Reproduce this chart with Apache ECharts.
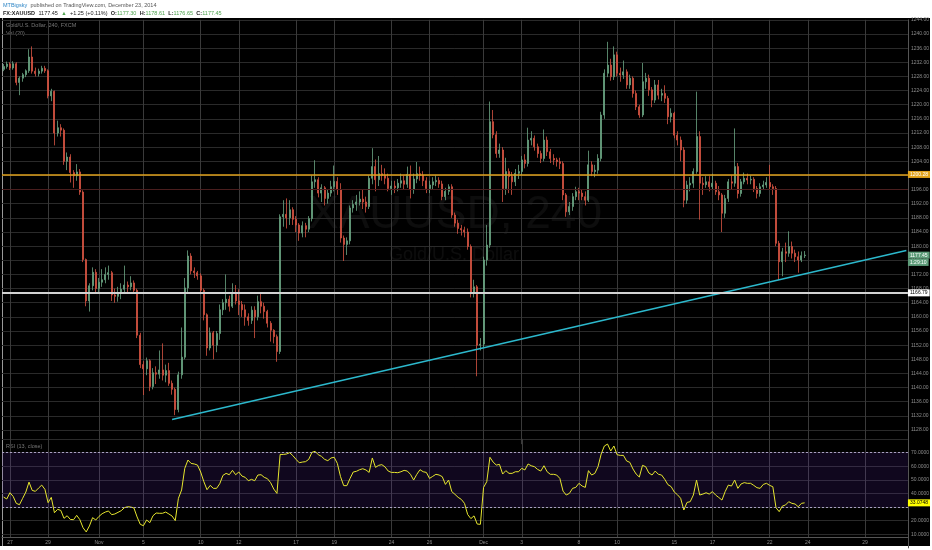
<!DOCTYPE html>
<html>
<head>
<meta charset="utf-8">
<title>XAUUSD 240</title>
<script src="https://cdn.jsdelivr.net/npm/echarts@6/dist/echarts.min.js"></script>
<style>
html,body{margin:0;padding:0;background:#fff;}
#frame{position:absolute;left:0;top:18px;width:930px;height:528px;background:#000;}
#edge{position:absolute;left:2px;top:18px;width:1px;height:528px;background:#9a9a9a;}
#chart{position:absolute;left:0;top:0;width:932px;height:550px;}
</style>
</head>
<body>
<div id="frame"></div>
<div id="edge"></div>
<div id="chart"></div>
<script>
// 4h bars, one row per bar: [open, high, low, close]
var bars = [
  [1230.0,1231.5,1229.5,1230.8],[1230.8,1232.2,1230.2,1231.5],[1231.5,1232.0,1229.8,1230.4],[1230.4,1232.3,1229.9,1231.6],[1231.6,1232.0,1225.5,1226.3],[1226.3,1228.0,1222.7,1227.5],
  [1227.5,1229.0,1226.5,1228.5],[1228.5,1230.0,1227.8,1229.6],[1229.6,1235.7,1229.0,1233.5],[1233.5,1236.5,1228.8,1229.5],[1229.5,1230.5,1228.0,1228.8],[1228.8,1230.2,1228.0,1229.5],
  [1229.5,1231.0,1228.8,1230.3],[1230.3,1231.0,1229.0,1229.6],[1229.6,1230.0,1221.8,1222.5],[1222.5,1224.5,1221.0,1223.8],[1223.8,1224.0,1208.5,1212.0],[1212.0,1215.5,1211.0,1213.5],
  [1213.5,1214.5,1211.0,1212.8],[1212.8,1213.3,1203.0,1204.0],[1204.0,1206.5,1201.5,1205.2],[1205.2,1206.0,1198.0,1200.8],[1200.8,1201.5,1196.5,1199.9],[1199.9,1203.2,1198.5,1201.0],
  [1201.0,1201.8,1194.5,1195.3],[1195.3,1195.8,1175.5,1176.2],[1176.2,1176.5,1163.0,1164.5],[1164.5,1169.5,1161.5,1168.8],[1168.8,1174.0,1167.5,1172.6],[1172.6,1173.5,1166.5,1168.0],
  [1168.0,1171.0,1166.5,1169.8],[1169.8,1173.5,1168.5,1170.5],[1170.5,1174.0,1169.5,1172.0],[1172.0,1174.5,1170.5,1172.5],[1172.5,1173.0,1164.5,1166.2],[1166.2,1168.0,1164.0,1165.8],
  [1165.8,1168.5,1164.3,1166.8],[1166.8,1169.5,1165.0,1167.8],[1167.8,1174.5,1166.5,1169.0],[1169.0,1170.0,1167.0,1168.5],[1168.5,1171.5,1167.5,1169.6],[1169.6,1170.3,1166.8,1167.5],
  [1167.5,1168.0,1154.0,1154.8],[1154.8,1155.5,1145.5,1146.5],[1146.5,1147.5,1137.9,1145.3],[1145.3,1148.5,1143.5,1147.6],[1147.6,1148.0,1139.0,1140.3],[1140.3,1145.5,1139.5,1144.2],
  [1144.2,1146.0,1141.0,1143.8],[1143.8,1150.5,1142.5,1145.0],[1145.0,1152.5,1142.0,1143.5],[1143.5,1146.5,1141.5,1144.8],[1144.8,1147.0,1140.5,1141.2],[1141.2,1142.0,1138.0,1139.5],
  [1139.5,1140.0,1132.2,1133.8],[1133.8,1144.5,1133.0,1143.6],[1143.6,1157.0,1142.5,1148.6],[1148.6,1171.0,1148.0,1168.2],[1168.2,1178.8,1167.0,1177.2],[1177.2,1178.0,1172.0,1173.0],
  [1173.0,1174.0,1171.0,1172.5],[1172.5,1173.0,1170.5,1171.6],[1171.6,1172.3,1166.5,1167.5],[1167.5,1168.0,1159.0,1160.6],[1160.6,1161.0,1149.0,1151.2],[1151.2,1157.0,1150.5,1155.5],
  [1155.5,1156.0,1148.0,1152.0],[1152.0,1156.0,1150.0,1155.3],[1155.3,1163.5,1153.5,1162.0],[1162.0,1165.0,1160.5,1164.0],[1164.0,1172.0,1162.0,1165.0],[1165.0,1166.0,1161.5,1163.0],
  [1163.0,1169.5,1162.5,1166.7],[1166.7,1169.0,1163.5,1164.5],[1164.5,1167.8,1160.5,1163.5],[1163.5,1164.5,1160.0,1162.0],[1162.0,1163.5,1157.5,1160.0],[1160.0,1161.0,1157.5,1159.0],
  [1159.0,1163.0,1158.0,1161.9],[1161.9,1163.0,1154.0,1160.0],[1160.0,1166.0,1159.0,1164.3],[1164.3,1166.5,1161.0,1163.0],[1163.0,1164.0,1159.5,1161.5],[1161.5,1162.0,1157.0,1158.2],
  [1158.2,1158.8,1153.0,1156.2],[1156.2,1156.5,1152.5,1154.4],[1154.4,1155.0,1147.3,1150.2],[1150.2,1189.0,1149.5,1188.3],[1188.3,1193.0,1185.5,1189.0],[1189.0,1193.5,1185.0,1188.0],
  [1188.0,1193.0,1186.0,1190.3],[1190.3,1191.0,1186.0,1187.6],[1187.6,1188.5,1184.0,1186.0],[1186.0,1186.5,1181.5,1183.7],[1183.7,1187.0,1182.5,1185.8],[1185.8,1186.6,1182.5,1184.8],
  [1184.8,1188.5,1184.0,1187.8],[1187.8,1200.0,1187.0,1198.2],[1198.2,1204.3,1196.5,1198.8],[1198.8,1199.5,1193.8,1195.0],[1195.0,1197.5,1192.5,1196.5],[1196.5,1197.0,1191.5,1193.5],
  [1193.5,1196.0,1192.0,1195.0],[1195.0,1198.5,1194.0,1196.8],[1196.8,1202.8,1195.5,1198.3],[1198.3,1199.5,1194.5,1196.0],[1196.0,1197.8,1181.0,1182.3],[1182.3,1183.0,1175.8,1180.5],
  [1180.5,1182.5,1177.5,1181.5],[1181.5,1191.5,1180.5,1190.8],[1190.8,1193.0,1189.5,1191.8],[1191.8,1194.5,1190.0,1192.5],[1192.5,1195.5,1191.5,1193.3],[1193.3,1196.0,1190.5,1192.5],
  [1192.5,1194.0,1189.5,1191.2],[1191.2,1200.0,1190.5,1199.2],[1199.2,1207.7,1197.5,1202.5],[1202.5,1204.5,1195.5,1198.8],[1198.8,1205.5,1197.0,1200.5],[1200.5,1203.0,1198.5,1200.0],
  [1200.0,1202.0,1197.5,1199.2],[1199.2,1200.5,1195.5,1196.3],[1196.3,1198.5,1194.5,1197.0],[1197.0,1198.5,1195.0,1196.5],[1196.5,1199.0,1195.5,1197.8],[1197.8,1200.5,1196.5,1198.5],
  [1198.5,1200.0,1196.0,1197.5],[1197.5,1202.5,1196.5,1200.3],[1200.3,1202.8,1193.5,1196.0],[1196.0,1200.5,1194.8,1199.0],[1199.0,1203.8,1197.8,1200.5],[1200.5,1202.5,1198.5,1200.0],
  [1200.0,1201.2,1197.0,1198.5],[1198.5,1199.5,1195.0,1196.3],[1196.3,1198.5,1195.0,1197.3],[1197.3,1199.5,1196.0,1198.2],[1198.2,1200.0,1197.0,1198.6],[1198.6,1199.5,1196.5,1197.6],
  [1197.6,1198.5,1193.0,1194.0],[1194.0,1196.5,1193.0,1195.5],[1195.5,1197.5,1194.5,1196.8],[1196.8,1197.5,1188.0,1188.8],[1188.8,1189.5,1185.5,1186.5],[1186.5,1187.5,1183.5,1185.0],
  [1185.0,1186.0,1183.0,1184.6],[1184.6,1185.5,1182.5,1184.0],[1184.0,1185.0,1179.0,1179.9],[1179.9,1180.5,1165.5,1166.7],[1166.7,1170.5,1165.5,1168.5],[1168.5,1169.0,1143.2,1152.0],
  [1152.0,1154.0,1150.5,1152.3],[1152.3,1177.0,1151.5,1176.1],[1176.1,1186.0,1174.5,1180.3],[1180.3,1220.9,1179.5,1215.2],[1215.2,1218.5,1210.5,1211.5],[1211.5,1212.5,1205.0,1206.2],
  [1206.2,1209.0,1205.0,1207.2],[1207.2,1208.0,1192.5,1196.3],[1196.3,1205.0,1194.5,1201.1],[1201.1,1202.0,1195.0,1199.7],[1199.7,1201.0,1194.5,1198.2],[1198.2,1201.8,1197.0,1200.6],
  [1200.6,1203.0,1199.0,1201.1],[1201.1,1205.5,1200.0,1204.4],[1204.4,1206.0,1202.0,1203.4],[1203.4,1213.5,1202.5,1210.0],[1210.0,1212.5,1208.5,1210.5],[1210.5,1211.3,1207.0,1208.1],
  [1208.1,1209.0,1205.0,1206.2],[1206.2,1207.0,1203.5,1204.8],[1204.8,1213.0,1204.0,1210.0],[1210.0,1211.0,1205.5,1206.7],[1206.7,1207.5,1203.5,1204.8],[1204.8,1206.0,1203.0,1204.4],
  [1204.4,1205.0,1202.5,1203.9],[1203.9,1205.0,1201.8,1203.4],[1203.4,1204.0,1193.0,1194.5],[1194.5,1195.0,1188.3,1189.7],[1189.7,1192.5,1188.8,1191.2],[1191.2,1195.0,1190.0,1194.0],
  [1194.0,1196.8,1193.0,1195.4],[1195.4,1196.5,1193.0,1195.0],[1195.0,1196.0,1193.0,1194.0],[1194.0,1195.5,1191.5,1193.0],[1193.0,1207.0,1192.5,1203.0],[1203.0,1204.0,1199.8,1201.1],
  [1201.1,1203.0,1199.5,1201.5],[1201.5,1206.0,1200.5,1204.8],[1204.8,1218.0,1204.0,1217.1],[1217.1,1230.0,1216.0,1228.9],[1228.9,1237.8,1227.8,1231.2],[1231.2,1233.0,1226.8,1227.9],
  [1227.9,1236.5,1227.0,1234.1],[1234.1,1235.0,1228.0,1228.9],[1228.9,1230.5,1226.5,1228.4],[1228.4,1232.5,1227.3,1229.3],[1229.3,1230.0,1224.5,1225.6],[1225.6,1228.5,1224.5,1227.5],
  [1227.5,1228.0,1222.0,1223.2],[1223.2,1224.0,1218.5,1219.4],[1219.4,1220.0,1216.3,1217.1],[1217.1,1231.8,1216.5,1226.5],[1226.5,1229.0,1224.5,1227.5],[1227.5,1228.5,1222.5,1224.2],
  [1224.2,1225.0,1219.3,1221.3],[1221.3,1227.0,1220.5,1225.6],[1225.6,1227.0,1221.5,1222.7],[1222.7,1224.5,1221.0,1223.2],[1223.2,1225.5,1220.5,1221.8],[1221.8,1222.5,1214.5,1216.6],
  [1216.6,1219.0,1215.0,1217.6],[1217.6,1218.0,1210.5,1211.4],[1211.4,1212.5,1208.5,1210.0],[1210.0,1211.0,1204.0,1207.2],[1207.2,1208.0,1191.0,1193.0],[1193.0,1198.5,1192.0,1197.3],
  [1197.3,1199.5,1195.5,1197.8],[1197.8,1202.0,1196.5,1201.1],[1201.1,1223.7,1200.5,1211.0],[1211.0,1212.5,1187.5,1197.8],[1197.8,1199.5,1194.5,1197.4],[1197.4,1199.8,1196.5,1198.2],
  [1198.2,1199.8,1195.5,1196.8],[1196.8,1200.5,1196.0,1197.8],[1197.8,1198.5,1194.5,1195.4],[1195.4,1197.0,1193.0,1194.5],[1194.5,1195.0,1184.0,1189.3],[1189.3,1194.5,1188.0,1193.5],
  [1193.5,1199.0,1192.5,1198.2],[1198.2,1200.0,1196.0,1197.8],[1197.8,1213.3,1196.8,1202.5],[1202.5,1203.5,1193.5,1194.9],[1194.9,1199.0,1194.0,1198.2],[1198.2,1200.8,1197.5,1199.2],
  [1199.2,1200.5,1197.5,1198.7],[1198.7,1200.0,1197.5,1198.9],[1198.9,1199.5,1195.3,1196.3],[1196.3,1197.0,1193.5,1194.9],[1194.9,1197.8,1194.0,1196.8],[1196.8,1198.5,1196.0,1197.3],
  [1197.3,1199.5,1196.5,1198.0],[1198.0,1203.0,1196.0,1196.8],[1196.8,1197.5,1194.5,1196.3],[1196.3,1197.0,1180.0,1180.8],[1180.8,1181.5,1170.4,1175.6],[1175.6,1179.5,1171.5,1178.4],
  [1178.4,1181.0,1175.5,1178.0],[1178.0,1184.2,1177.0,1179.9],[1179.9,1181.3,1176.5,1178.0],[1178.0,1179.0,1175.5,1177.0],[1177.0,1178.5,1172.5,1176.1],[1176.1,1178.5,1175.5,1177.3],
  [1177.30,1178.61,1176.65,1177.45]
];

// RSI, one value per bar
var rsi = [
  37.3,35.9,40.5,37.8,32.7,31.7,36.4,41.0,48.3,42.2,
  41.5,43.9,46.1,43.0,33.2,37.1,25.8,28.3,27.5,21.7,
  23.6,20.9,20.7,23.9,20.7,14.8,11.7,16.1,22.2,20.5,
  23.1,25.1,26.3,27.1,24.4,24.9,26.1,27.3,29.5,30.2,
  30.0,29.3,22.7,17.3,16.3,20.5,18.5,23.6,25.6,25.4,
  25.4,26.3,24.9,23.4,20.0,36.4,42.5,58.4,64.5,62.0,
  61.6,60.8,55.7,48.6,42.7,45.9,43.7,43.7,47.1,53.2,
  54.7,53.7,56.9,53.7,55.7,52.7,51.8,49.3,50.3,49.3,
  53.5,53.7,51.8,50.8,47.9,43.2,40.0,68.6,68.6,68.9,
  69.9,67.7,65.0,62.5,63.0,63.3,65.0,70.1,70.9,68.4,
  67.2,65.0,64.0,66.0,66.5,62.0,52.3,45.7,45.7,51.0,
  55.7,56.2,57.4,58.1,57.2,55.4,66.0,59.1,60.6,61.1,
  59.4,56.4,55.4,55.4,55.2,55.9,56.9,56.4,54.0,49.8,
  54.0,57.4,55.9,55.4,51.0,52.5,54.0,53.5,52.3,46.6,
  49.8,41.3,39.3,37.1,35.6,32.7,24.5,21.5,23.5,17.5,
  17.3,44.4,48.6,66.5,63.0,60.8,61.3,54.2,56.7,54.7,
  54.7,55.9,55.9,58.4,57.2,61.6,60.3,59.6,57.6,56.4,
  60.3,55.9,54.0,54.0,53.5,51.0,41.7,38.8,40.0,43.7,
  44.4,47.4,45.4,44.4,56.7,53.5,54.7,59.6,68.9,74.8,
  76.2,71.1,74.8,68.4,67.9,67.9,63.8,62.8,57.9,54.2,
  52.0,60.6,59.6,55.0,53.5,56.4,54.0,53.5,50.3,46.4,
  45.0,41.0,39.0,36.4,27.8,33.4,33.9,38.8,49.8,38.8,
  39.5,40.5,39.5,41.3,38.8,37.0,35.1,41.3,46.1,45.4,
  49.8,43.7,46.9,47.9,47.4,47.4,45.9,44.2,43.7,46.6,
  47.4,45.9,44.9,29.5,26.6,30.7,31.5,33.9,32.7,32.2,
  30.2,32.7,33.07
];

// time axis: bar slot where each day label sits, and its text
var dayTicks = [2,14,30,44,62,74,92,104,122,134,151,163,181,193,211,223,241,253,271];
var dayNames = ['27','29','Nov','5','10','12','17','19','24','26','Dec','3','8','10','15','17','22','24','29'];

// drawings
var resistance = 1200.28;
var support = 1166.79;
var faintLevel = 1196;
var trendStart = [53, 1131.0];
var trendEnd = [284, 1178.8];
var lastClose = 1177.45;
var lastRsi = 33.0748;
var countdown = '1:29:10';

var slotCount = 285;
var slots = [];
for (var s = 0; s < slotCount; s++) slots.push(String(s));

var candleData = bars.map(function (b) { return [b[0], b[3], b[2], b[1]]; });

var FONT = 'Liberation Sans, Arial, sans-serif';
var UP = '#6ba583', DOWN = '#d75442';
var NOLINE = { color: 'rgba(0,0,0,0)', width: 0 };

function isDay(idx) { return dayTicks.indexOf(idx) >= 0; }
function dayName(val, idx) { var k = dayTicks.indexOf(idx); return k >= 0 ? dayNames[k] : ''; }

function boxLabel(bg, fg, text) {
  return {
    show: true, position: 'end', distance: 0,
    formatter: text, fontSize: 5, fontFamily: FONT,
    color: fg, backgroundColor: bg, padding: [1, 2]
  };
}

var myChart = echarts.init(document.getElementById('chart'), null, { renderer: 'canvas' });

option = {
  animation: false,
  backgroundColor: 'transparent',
  grid: [
    { left: 2, right: 24, top: 19.86, height: 424.3 },
    { left: 2, right: 24, top: 438.9, height: 109 },
    { left: 2, right: 24, top: 438.9, bottom: 13 }
  ],
  xAxis: [
    {
      type: 'category', gridIndex: 0, data: slots, boundaryGap: true,
      axisLine: { show: false }, axisTick: { show: false }, axisLabel: { show: false },
      splitLine: { show: true, interval: isDay, alignWithLabel: true, lineStyle: { color: '#3a3a3a', width: 1 } }
    },
    {
      type: 'category', gridIndex: 1, data: slots, boundaryGap: true, show: false
    },
    {
      type: 'category', gridIndex: 2, data: slots, boundaryGap: true,
      axisLine: { show: true, lineStyle: { color: '#555' } },
      axisTick: { show: false },
      axisLabel: { show: true, interval: isDay, formatter: dayName, color: '#8c8c8c', fontSize: 5, fontFamily: FONT, margin: 3 },
      splitLine: { show: true, interval: isDay, alignWithLabel: true, lineStyle: { color: '#3a3a3a', width: 1 } }
    }
  ],
  yAxis: [
    {
      type: 'value', gridIndex: 0, position: 'right', min: 1124, max: 1244, interval: 4,
      axisLine: { show: true, lineStyle: { color: '#555' } }, axisTick: { show: false },
      axisLabel: {
        color: '#8c8c8c', fontSize: 5, fontFamily: FONT, margin: 3, showMinLabel: false,
        formatter: function (v) { return v.toFixed(2); }
      },
      splitLine: { show: true, showMinLine: false, lineStyle: { color: '#2a2a2a', width: 1 } }
    },
    {
      type: 'value', gridIndex: 1, position: 'right', min: 0, max: 80, interval: 10,
      axisLine: { show: true, lineStyle: { color: '#555' } }, axisTick: { show: false },
      axisLabel: {
        color: '#8c8c8c', fontSize: 5, fontFamily: FONT, margin: 3,
        formatter: function (v) { return (v === 0 || v === 30 || v === 80) ? '' : v.toFixed(4); }
      },
      splitLine: { show: true, showMinLine: false, lineStyle: { color: '#2a2a2a', width: 1 } }
    },
    { type: 'value', gridIndex: 2, min: 0, max: 1, show: false }
  ],
  graphic: [
    { type: 'text', x: 3, y: 5, style: { text: '{u|MTBigsky} {p|published on TradingView.com, December 23, 2014}', verticalAlign: 'middle',
      rich: { u: { fill: '#2f86c6', fontSize: 5.5, fontFamily: FONT }, p: { fill: '#555', fontSize: 5.5, fontFamily: FONT } } } },
    { type: 'text', x: 3, y: 13, style: { text: '{b|FX:XAUUSD} {n|1177.45} {g|\u25B2} {n|+1.25 (+0.11%)} {b|O:}{g|1177.30} {b|H:}{g|1178.61} {b|L:}{g|1176.65} {b|C:}{g|1177.45}', verticalAlign: 'middle',
      rich: {
        b: { fill: '#222', fontSize: 5.5, fontWeight: 'bold', fontFamily: FONT },
        n: { fill: '#222', fontSize: 5.5, fontFamily: FONT },
        g: { fill: '#4fa34f', fontSize: 5.5, fontFamily: FONT }
      } } },
    { type: 'text', x: 6, y: 25.7, style: { text: 'Gold/U.S. Dollar, 240, FXCM', fill: '#777', fontSize: 5.5, fontFamily: FONT, verticalAlign: 'middle' } },
    { type: 'text', x: 6, y: 33.7, style: { text: 'Vol (20)', fill: '#777', fontSize: 5.5, fontFamily: FONT, verticalAlign: 'middle' } },
    { type: 'text', x: 6, y: 446.7, style: { text: 'RSI (13, close)', fill: '#777', fontSize: 5.5, fontFamily: FONT, verticalAlign: 'middle' } },
    { type: 'text', x: 455, y: 215, style: { text: 'XAUUSD, 240', fill: 'rgba(255,255,255,0.05)', fontSize: 46, fontFamily: FONT, align: 'center', verticalAlign: 'middle' } },
    { type: 'text', x: 454, y: 255, style: { text: 'Gold/U.S. Dollar', fill: 'rgba(255,255,255,0.05)', fontSize: 18, fontFamily: FONT, align: 'center', verticalAlign: 'middle' } }
  ],
  series: [
    {
      name: 'XAUUSD', type: 'candlestick', xAxisIndex: 0, yAxisIndex: 0,
      data: candleData, barWidth: 1.5,
      itemStyle: { color: UP, color0: DOWN, borderColor: UP, borderColor0: DOWN, borderWidth: 0.8 },
      markLine: {
        symbol: 'none', silent: true, animation: false,
        data: [
          { yAxis: faintLevel, lineStyle: { color: '#4a1e1e', width: 1, type: 'solid' }, label: { show: false } },
          { yAxis: resistance, lineStyle: { color: '#e0a21c', width: 1.5, type: 'solid' }, label: boxLabel('#e0a21c', '#fff', resistance.toFixed(2)) },
          { yAxis: support, lineStyle: { color: '#d2d2d2', width: 2, type: 'solid' }, label: boxLabel('#fff', '#000', support.toFixed(2)) },
          { yAxis: lastClose, lineStyle: NOLINE, label: boxLabel('#5d9c79', '#fff', lastClose.toFixed(2)) },
          { yAxis: lastClose - 2.05, lineStyle: NOLINE, label: boxLabel('#5d9c79', '#fff', countdown) }
        ]
      }
    },
    {
      name: 'trend', type: 'line', xAxisIndex: 0, yAxisIndex: 0,
      data: [trendStart, trendEnd], symbol: 'none', silent: true,
      lineStyle: { color: '#2cb8cc', width: 1.5 }
    },
    {
      name: 'RSI', type: 'line', xAxisIndex: 1, yAxisIndex: 1,
      data: rsi, symbol: 'none', silent: true,
      lineStyle: { color: '#e6e62e', width: 1 },
      markArea: {
        silent: true,
        itemStyle: { color: 'rgba(110,50,200,0.15)' },
        data: [[{ yAxis: 30 }, { yAxis: 70 }]]
      },
      markLine: {
        symbol: 'none', silent: true, animation: false,
        data: [
          { yAxis: 70, lineStyle: { color: '#a89fc2', width: 1, type: [2, 2] }, label: { show: false } },
          { yAxis: 30, lineStyle: { color: '#a89fc2', width: 1, type: [2, 2] }, label: { show: false } },
          { yAxis: lastRsi, lineStyle: NOLINE, label: boxLabel('#ffff00', '#000', lastRsi.toFixed(4)) }
        ]
      }
    }
  ]
};
myChart.setOption(option);
</script>
</body>
</html>
